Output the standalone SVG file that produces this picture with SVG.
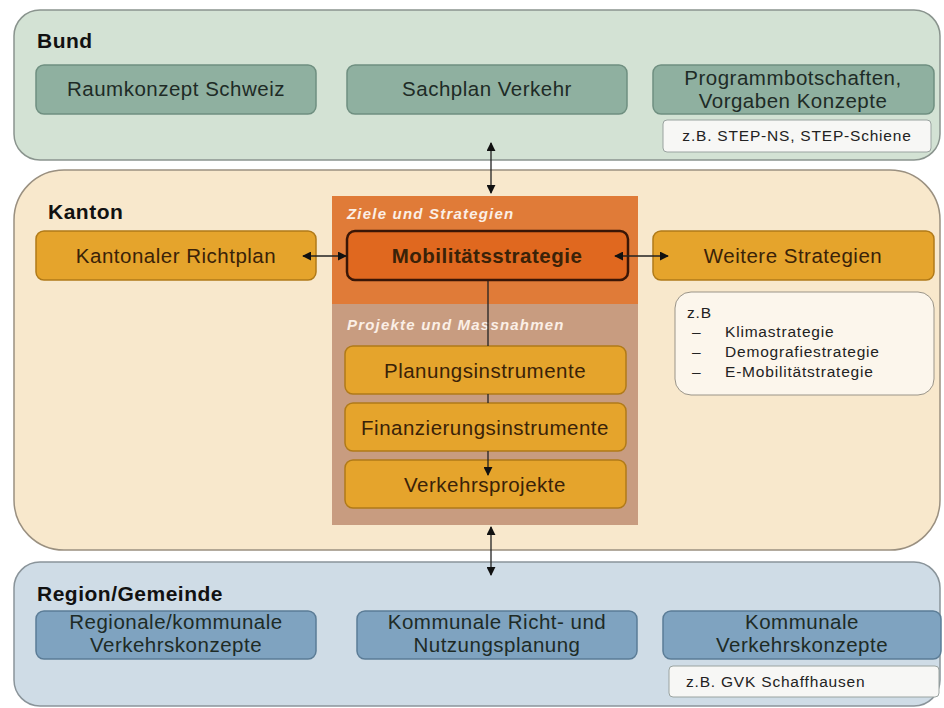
<svg xmlns="http://www.w3.org/2000/svg" width="944" height="708" viewBox="0 0 944 708">
<defs>
<marker id="ah" viewBox="0 0 10 10" refX="9" refY="5" markerWidth="9" markerHeight="9" markerUnits="userSpaceOnUse" orient="auto-start-reverse"><path d="M0,0 L10,5 L0,10 z" fill="#111"/></marker>
<style>
text{font-family:"Liberation Sans",Arial,sans-serif;}
.panel-label{font-size:21px;font-weight:bold;fill:#111;letter-spacing:0.5px;}
.bt{font-size:20.5px;fill:#1e2b26;text-anchor:middle;letter-spacing:0.5px;}
.gbox{fill:#8fb0a0;stroke:#6f8f80;stroke-width:1.5;}
.obox{fill:#e5a42c;stroke:#b07a18;stroke-width:1.5;}
.bbox{fill:#7fa3c0;stroke:#5b7c96;stroke-width:1.5;}
.note{fill:#f7f7f5;stroke:#9aa3a0;stroke-width:1;}
.ot{font-size:20.5px;fill:#3a2208;text-anchor:middle;letter-spacing:0.5px;}
.hdr{font-size:15px;font-weight:bold;font-style:italic;fill:#fbefe6;letter-spacing:1.2px;}
.small{font-size:15.5px;fill:#222;letter-spacing:0.8px;}
.conn{stroke:#222;stroke-width:1.3;fill:none;}
</style>
</defs>

<g id="bund">
<rect x="14" y="10" width="926" height="150" rx="26" fill="#d3e2d4" stroke="#8a948e" stroke-width="1.5"/>
<text x="37" y="48" class="panel-label">Bund</text>
</g>
<g id="kanton">
<rect x="14" y="170" width="926" height="380" rx="50" fill="#f8e8cc" stroke="#9a9080" stroke-width="1.5"/>
<text x="48" y="219" class="panel-label">Kanton</text>
</g>
<g id="region">
<rect x="14" y="562" width="926" height="144" rx="26" fill="#cfdce6" stroke="#8a949a" stroke-width="1.5"/>
<text x="37" y="601" class="panel-label">Region/Gemeinde</text>
</g>

<g id="ziele">
<rect x="332" y="196" width="306" height="108" fill="#e07b38"/>
<text x="347" y="219" class="hdr">Ziele und Strategien</text>
</g>
<g id="projekte">
<rect x="332" y="304" width="306" height="221" fill="#c89c80"/>
<text x="347" y="330" class="hdr">Projekte und Massnahmen</text>
</g>

<g id="raumkonzept">
<rect x="36" y="65" width="280" height="49" rx="8" class="gbox"/>
<text x="176" y="96" class="bt">Raumkonzept Schweiz</text>
</g>
<g id="sachplan">
<rect x="347" y="65" width="280" height="49" rx="8" class="gbox"/>
<text x="487" y="96" class="bt">Sachplan Verkehr</text>
</g>
<g id="programm">
<rect x="653" y="65" width="281" height="49" rx="8" class="gbox"/>
<text x="793" y="85" class="bt">Programmbotschaften,</text>
<text x="793" y="108" class="bt">Vorgaben Konzepte</text>
</g>
<g id="step">
<rect x="663" y="120" width="268" height="32" rx="4" class="note"/>
<text x="797" y="141" class="small" text-anchor="middle">z.B. STEP-NS, STEP-Schiene</text>
</g>

<g id="richtplan">
<rect x="36" y="231" width="280" height="49" rx="8" class="obox"/>
<text x="176" y="263" class="ot">Kantonaler Richtplan</text>
</g>
<g id="mobilitaet">
<rect x="347" y="231" width="281" height="49" rx="8" fill="#e0681f" stroke="#3a1606" stroke-width="2.5"/>
<text x="487" y="263" class="ot" font-weight="bold" fill="#2a1204">Mobilitätsstrategie</text>
</g>
<g id="weitere">
<rect x="653" y="231" width="281" height="49" rx="8" class="obox"/>
<text x="793" y="263" class="ot">Weitere Strategien</text>
</g>
<g id="zb-strategien">
<rect x="675" y="292" width="259" height="103" rx="16" fill="#fcf6ec" stroke="#9a9488" stroke-width="1"/>
<text x="687" y="318" class="small">z.B</text>
<text x="692" y="337" class="small">–</text><text x="725" y="337" class="small">Klimastrategie</text>
<text x="692" y="357" class="small">–</text><text x="725" y="357" class="small">Demografiestrategie</text>
<text x="692" y="377" class="small">–</text><text x="725" y="377" class="small">E-Mobilitätstrategie</text>
</g>
<g id="planung">
<rect x="345" y="346" width="281" height="48" rx="8" class="obox"/>
<text x="485" y="378" class="ot">Planungsinstrumente</text>
</g>
<g id="finanz">
<rect x="345" y="403" width="281" height="48" rx="8" class="obox"/>
<text x="485" y="435" class="ot">Finanzierungsinstrumente</text>
</g>
<g id="verkehrsprojekte">
<rect x="345" y="460" width="281" height="48" rx="8" class="obox"/>
<text x="485" y="492" class="ot">Verkehrsprojekte</text>
</g>

<g id="regionale">
<rect x="36" y="611" width="280" height="48" rx="8" class="bbox"/>
<text x="176" y="629" class="bt">Regionale/kommunale</text>
<text x="176" y="652" class="bt">Verkehrskonzepte</text>
</g>
<g id="richt-nutzung">
<rect x="357" y="611" width="280" height="48" rx="8" class="bbox"/>
<text x="497" y="629" class="bt">Kommunale Richt- und</text>
<text x="497" y="652" class="bt">Nutzungsplanung</text>
</g>
<g id="kommunale">
<rect x="663" y="611" width="278" height="48" rx="8" class="bbox"/>
<text x="802" y="629" class="bt">Kommunale</text>
<text x="802" y="652" class="bt">Verkehrskonzepte</text>
</g>
<g id="gvk">
<rect x="669" y="666" width="270" height="31" rx="4" class="note"/>
<text x="686" y="687" class="small">z.B. GVK Schaffhausen</text>
</g>

<g id="connectors">
<line x1="491" y1="143" x2="491" y2="193" class="conn" marker-start="url(#ah)" marker-end="url(#ah)"/>
<line x1="491" y1="527" x2="491" y2="575" class="conn" marker-start="url(#ah)" marker-end="url(#ah)"/>
<line x1="303" y1="256" x2="346" y2="256" class="conn" marker-start="url(#ah)" marker-end="url(#ah)"/>
<line x1="615" y1="256" x2="668" y2="256" class="conn" marker-start="url(#ah)" marker-end="url(#ah)"/>
<path d="M488 281 V346 M488 394 V403 M488 451 V475" class="conn" marker-end="url(#ah)"/>
</g>
</svg>
